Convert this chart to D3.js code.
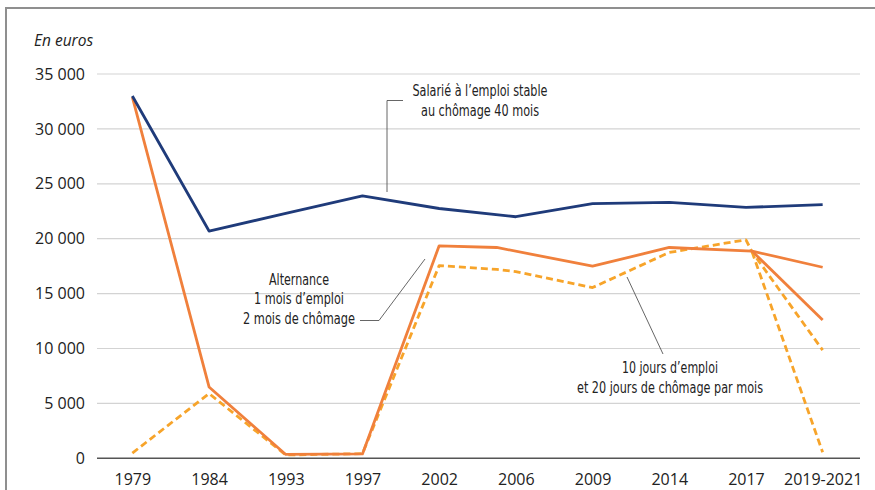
<!DOCTYPE html>
<html>
<head>
<meta charset="utf-8">
<script src="https://cdn.jsdelivr.net/npm/d3@7"></script>
<style>
  html, body { margin: 0; padding: 0; background: #ffffff; }
  svg { display: block; }
  .tick text { font-family: "Open Sans", "Liberation Sans", sans-serif; font-size: 16px; fill: #222; }
  .annot { font-family: "Liberation Sans Narrow", "DejaVu Sans Condensed", "Roboto", sans-serif; font-size: 16.5px; fill: #222; }
</style>
</head>
<body>
<div id="chart"></div>
<script>
// ---- Data ----
const categories = ["1979", "1984", "1993", "1997", "2002", "2006", "2009", "2014", "2017", "2019-2021"];
const yTicks = [0, 5000, 10000, 15000, 20000, 25000, 30000, 35000];

// step = position on the category axis (0 = 1979 ... 9 = 2019-2021)
const stableSteps  = [0, 1, 2, 3, 4, 5, 6, 7, 8, 9];
const stableValues = [33000, 20700, 22300, 23900, 22750, 22000, 23200, 23300, 22850, 23100];

const alternanceSteps  = [0, 1, 2, 3, 4, 4.75, 6, 7, 8.08, 9];
const alternanceValues = [32900, 6500, 350, 400, 19350, 19200, 17500, 19200, 18870, 17400];
const alternanceBranchSteps  = [8.08, 9];
const alternanceBranchValues = [18870, 12600];

const dixJoursSteps  = [0, 1, 2, 3, 4, 4.75, 5, 6, 7, 8, 8.08, 9];
const dixJoursValues = [480, 5900, 300, 420, 17550, 17200, 17000, 15550, 18750, 19900, 18800, 9850];
const dixJoursBranchSteps  = [8.08, 9];
const dixJoursBranchValues = [18800, 550];

const zip = (s, v) => s.map((d, i) => ({ step: d, value: v[i] }));

// ---- Layout ----
const W = 875, H = 490;
const plotLeft = 97, plotRight = 860;

const svg = d3.select("#chart").append("svg").attr("width", W).attr("height", H);

// frame
svg.append("rect").attr("x", 6).attr("y", 8).attr("width", 900).attr("height", 600)
  .attr("fill", "none").attr("stroke", "#8f8f8f").attr("stroke-width", 2);

const x = d3.scaleLinear().domain([-0.5, 9.5]).range([94, 861]);
const y = d3.scaleLinear().domain([0, 35000]).range([458.3, 74]);

const locale = d3.formatLocale({ decimal: ",", thousands: "\u00a0", grouping: [3], currency: ["", " €"] });
const fmt = locale.format(",d");

// gridlines
svg.append("g").selectAll("line").data(yTicks).join("line")
  .attr("x1", plotLeft).attr("x2", plotRight)
  .attr("y1", d => y(d)).attr("y2", d => y(d))
  .attr("stroke", d => d === 0 ? "#555" : "#d3d3d3")
  .attr("stroke-width", d => d === 0 ? 1.6 : 1.2);

// y axis
const yAxis = svg.append("g").attr("transform", `translate(${plotLeft},0)`)
  .call(d3.axisLeft(y).tickValues(yTicks).tickFormat(fmt).tickSize(0).tickPadding(12));
yAxis.select(".domain").remove();

// x axis
const xAxis = svg.append("g").attr("transform", `translate(0,${y(0)})`)
  .call(d3.axisBottom(x).tickValues(d3.range(categories.length)).tickFormat(i => categories[i]).tickSize(0).tickPadding(15));
xAxis.select(".domain").remove();

// unit label
svg.append("text").attr("x", 34).attr("y", 46)
  .style("font-family", "'Open Sans', 'Liberation Sans', sans-serif")
  .style("font-style", "italic").style("font-size", "15.5px").style("fill", "#222")
  .text("En euros");

const line = d3.line().x(d => x(d.step)).y(d => y(d.value));

function draw(data, color, dashed) {
  svg.append("path").datum(data)
    .attr("d", line)
    .attr("fill", "none")
    .attr("stroke", color)
    .attr("stroke-width", 2.8)
    .attr("stroke-linejoin", "round")
    .attr("stroke-dasharray", dashed ? "7,4" : null);
}

const cDash = "#f7a42a", cOrange = "#f0803c", cBlue = "#1f3b7a";
draw(zip(dixJoursSteps, dixJoursValues), cDash, true);
draw(zip(dixJoursBranchSteps, dixJoursBranchValues), cDash, true);
draw(zip(alternanceSteps, alternanceValues), cOrange, false);
draw(zip(alternanceBranchSteps, alternanceBranchValues), cOrange, false);
draw(zip(stableSteps, stableValues), cBlue, false);

// ---- Annotations ----
const lead = svg.append("g").attr("fill", "none").attr("stroke", "#555").attr("stroke-width", 0.9);
lead.append("polyline").attr("points", "403,100.5 387,100.5 387,192");
lead.append("polyline").attr("points", "360,320.5 379,320.5 425,259");
lead.append("line").attr("x1", 627).attr("y1", 277).attr("x2", 663).attr("y2", 354);

// lines: [text, width in px (condensed face of the original)]
function label(lines, cx, y0, dy) {
  const t = svg.append("text").attr("class", "annot").attr("text-anchor", "middle");
  lines.forEach(([s, w], i) => t.append("tspan")
    .attr("x", cx).attr("y", y0 + i * dy)
    .attr("textLength", w).attr("lengthAdjust", "spacingAndGlyphs")
    .text(s));
}
label([["Salarié à l’emploi stable", 135], ["au chômage 40 mois", 118]], 480, 96, 19.5);
label([["Alternance", 60], ["1 mois d’emploi", 90], ["2 mois de chômage", 112]], 299, 284.5, 19.8);
label([["10 jours d’emploi", 96], ["et 20 jours de chômage par mois", 186]], 670, 373, 20);
</script>
</body>
</html>
